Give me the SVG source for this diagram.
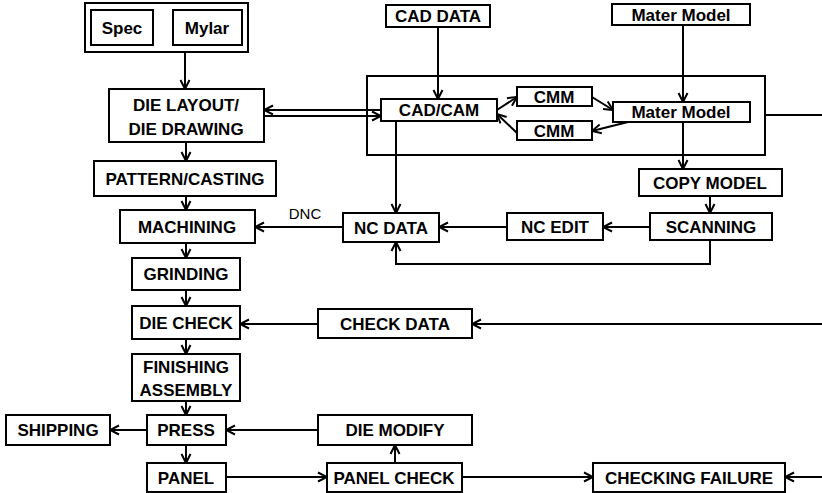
<svg xmlns="http://www.w3.org/2000/svg" width="822" height="493" viewBox="0 0 822 493">
<defs>
<marker id="a" markerUnits="userSpaceOnUse" markerWidth="12" markerHeight="12" viewBox="0 0 12 12" refX="11" refY="6" orient="auto">
<path d="M2,1.5 L11,6 L2,10.5" fill="none" stroke="#000" stroke-width="2"/>
</marker>
</defs>
<style>
.b{fill:#fff;stroke:#000;stroke-width:2}
.t{font-family:"Liberation Sans",Arial,sans-serif;font-weight:bold;font-size:17px;text-anchor:middle;fill:#000}
.c{fill:none;stroke:#000;stroke-width:2;marker-end:url(#a)}
.l{fill:none;stroke:#000;stroke-width:2}
</style>
<rect width="822" height="493" fill="#fff"/>
<g id="container">
<rect class="b" x="85" y="3" width="163" height="49"/>
<rect class="b" x="367" y="76" width="398" height="79"/>
</g>
<g id="connectors">
<path class="c" d="M185,52 V89"/>
<path class="c" d="M186,142 V161"/>
<path class="c" d="M186,196 V210"/>
<path class="c" d="M186,243 V258"/>
<path class="c" d="M186,290 V306"/>
<path class="c" d="M186,339 V354"/>
<path class="c" d="M186,401 V415"/>
<path class="c" d="M186,445 V463"/>
<path class="c" d="M438,27 V99"/>
<path class="c" d="M683,25 V102"/>
<path class="c" d="M497,110 L517,97"/>
<path class="c" d="M517,133 L497,114"/>
<path class="c" d="M592,97 L613,110"/>
<path class="c" d="M628,122 L592,131"/>
<path class="l" d="M765,115 H822"/>
<path class="c" d="M683,122 V169"/>
<path class="c" d="M396,121 V213"/>
<path class="c" d="M381,110 H264"/>
<path class="c" d="M264,116 H381"/>
<path class="c" d="M710,196 V213"/>
<path class="c" d="M650,227 H603"/>
<path class="c" d="M507,227 H439"/>
<path class="c" d="M710,240 V264 H396 V242"/>
<path class="c" d="M343,227 H255"/>
<path class="c" d="M318,324 H240"/>
<path class="c" d="M822,324 H472"/>
<path class="c" d="M147,430 H110"/>
<path class="c" d="M318,430 H226"/>
<path class="c" d="M226,477 H327"/>
<path class="c" d="M395,463 V445"/>
<path class="c" d="M462,477 H593"/>
<path class="c" d="M822,477 H785"/>
<text x="305" y="219" style="font-family:'Liberation Sans',Arial,sans-serif;font-size:15px;text-anchor:middle">DNC</text>
</g>
<g id="spec"><rect class="b" x="91" y="10" width="62" height="35"/><text class="t" x="122" y="34">Spec</text></g>
<g id="mylar"><rect class="b" x="173" y="10" width="69" height="35"/><text class="t" x="207" y="34">Mylar</text></g>
<g id="die-layout"><rect class="b" x="109" y="89" width="155" height="53"/><text class="t" x="186" y="111">DIE LAYOUT/</text><text class="t" x="186" y="135">DIE DRAWING</text></g>
<g id="pattern"><rect class="b" x="94" y="161" width="182" height="35"/><text class="t" x="185" y="185">PATTERN/CASTING</text></g>
<g id="machining"><rect class="b" x="120" y="210" width="135" height="33"/><text class="t" x="187" y="233">MACHINING</text></g>
<g id="grinding"><rect class="b" x="132" y="258" width="108" height="32"/><text class="t" x="186" y="280">GRINDING</text></g>
<g id="die-check"><rect class="b" x="132" y="306" width="108" height="33"/><text class="t" x="186" y="329">DIE CHECK</text></g>
<g id="finishing"><rect class="b" x="132" y="354" width="108" height="47"/><text class="t" x="186" y="373">FINISHING</text><text class="t" x="186" y="396">ASSEMBLY</text></g>
<g id="press"><rect class="b" x="147" y="415" width="79" height="30"/><text class="t" x="186" y="436">PRESS</text></g>
<g id="shipping"><rect class="b" x="6" y="415" width="104" height="30"/><text class="t" x="58" y="436">SHIPPING</text></g>
<g id="panel"><rect class="b" x="147" y="463" width="79" height="29"/><text class="t" x="186" y="484">PANEL</text></g>
<g id="panel-check"><rect class="b" x="327" y="463" width="135" height="29"/><text class="t" x="394" y="484">PANEL CHECK</text></g>
<g id="checking-failure"><rect class="b" x="593" y="463" width="192" height="29"/><text class="t" x="689" y="484">CHECKING FAILURE</text></g>
<g id="die-modify"><rect class="b" x="318" y="415" width="154" height="30"/><text class="t" x="395" y="436">DIE MODIFY</text></g>
<g id="check-data"><rect class="b" x="318" y="309" width="154" height="29"/><text class="t" x="395" y="330">CHECK DATA</text></g>
<g id="cad-data"><rect class="b" x="386" y="5" width="104" height="22"/><text class="t" x="438" y="22">CAD DATA</text></g>
<g id="mater-model-top"><rect class="b" x="612" y="4" width="138" height="21"/><text class="t" x="681" y="21">Mater Model</text></g>
<g id="cad-cam"><rect class="b" x="381" y="99" width="116" height="22"/><text class="t" x="439" y="116">CAD/CAM</text></g>
<g id="cmm-top"><rect class="b" x="517" y="87" width="75" height="19"/><text class="t" x="554" y="103">CMM</text></g>
<g id="cmm-bottom"><rect class="b" x="517" y="121" width="75" height="19"/><text class="t" x="554" y="137">CMM</text></g>
<g id="mater-model"><rect class="b" x="613" y="102" width="137" height="20"/><text class="t" x="681" y="118">Mater Model</text></g>
<g id="copy-model"><rect class="b" x="639" y="169" width="143" height="27"/><text class="t" x="710" y="189">COPY MODEL</text></g>
<g id="scanning"><rect class="b" x="650" y="213" width="122" height="27"/><text class="t" x="711" y="233">SCANNING</text></g>
<g id="nc-edit"><rect class="b" x="507" y="213" width="96" height="27"/><text class="t" x="555" y="233">NC EDIT</text></g>
<g id="nc-data"><rect class="b" x="343" y="213" width="96" height="29"/><text class="t" x="391" y="234">NC DATA</text></g>
</svg>
